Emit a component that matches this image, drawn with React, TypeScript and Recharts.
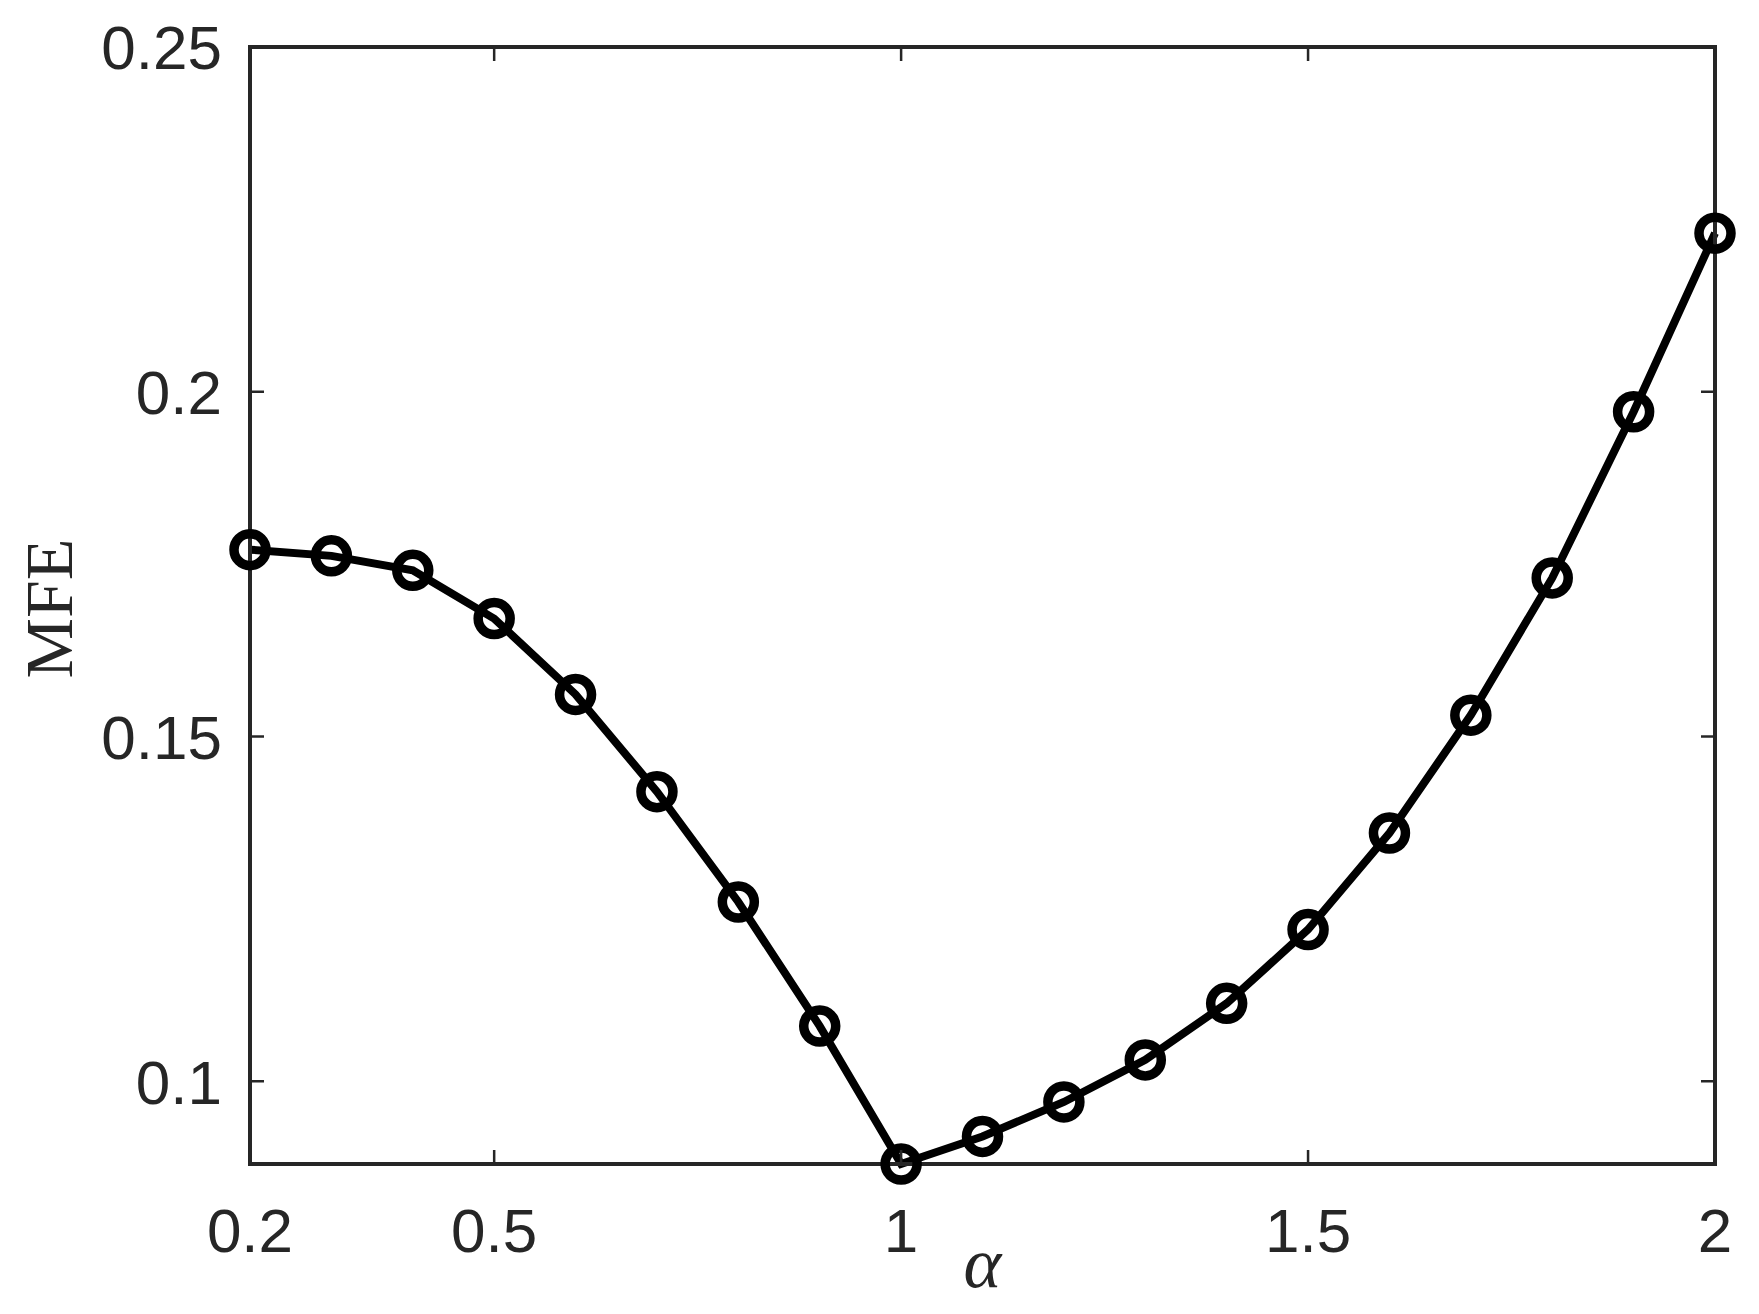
import React from "react";
import { LineChart, Line, XAxis, YAxis, Label } from "recharts";

// alpha values along the x axis and the measured MFE for each
const alphaValues = [0.2, 0.3, 0.4, 0.5, 0.6, 0.7, 0.8, 0.9, 1.0, 1.1, 1.2, 1.3, 1.4, 1.5, 1.6, 1.7, 1.8, 1.9, 2.0];
const mfeValues = [
  0.1771, 0.1762, 0.1741, 0.1671, 0.1561, 0.142, 0.126, 0.108, 0.088, 0.092,
  0.097, 0.1031, 0.1113, 0.122, 0.136, 0.1531, 0.173, 0.1971, 0.223,
];

const xTicks = [0.2, 0.5, 1, 1.5, 2];
const yTicks = [0.1, 0.15, 0.2, 0.25];
const xDomain: [number, number] = [0.2, 2];
const yDomain: [number, number] = [0.088, 0.25];

const data = alphaValues.map((a, i) => ({ alpha: a, mfe: mfeValues[i] }));

const AXIS = "#262626";
const SANS = "'Liberation Sans', Arial, sans-serif";
const SERIF = "'Liberation Serif', 'Times New Roman', serif";
const TICK_LEN = 14;

function LeftTick({ x, y, payload }: any) {
  return (
    <g>
      <line x1={x} x2={x + TICK_LEN} y1={y} y2={y} stroke={AXIS} strokeWidth={2.5} />
      <text x={x - 28} y={y} dy="0.36em" textAnchor="end" fontFamily={SANS} fontSize={62} fill={AXIS}>
        {String(payload.value)}
      </text>
    </g>
  );
}

function RightTick({ x, y }: any) {
  return <line x1={x - TICK_LEN} x2={x} y1={y} y2={y} stroke={AXIS} strokeWidth={2.5} />;
}

function BottomTick({ x, y, payload }: any) {
  return (
    <g>
      <line x1={x} x2={x} y1={y} y2={y - TICK_LEN} stroke={AXIS} strokeWidth={2.5} />
      <text x={x} y={y + 88} textAnchor="middle" fontFamily={SANS} fontSize={62} fill={AXIS}>
        {String(payload.value)}
      </text>
    </g>
  );
}

function TopTick({ x, y }: any) {
  return <line x1={x} x2={x} y1={y} y2={y + TICK_LEN} stroke={AXIS} strokeWidth={2.5} />;
}

const frame = { stroke: AXIS, strokeWidth: 4, strokeLinecap: "square" as const };

export default function App() {
  return (
    <LineChart width={1743} height={1298} data={data} margin={{ top: 0, right: 0, bottom: 0, left: 0 }}>
      <XAxis
        dataKey="alpha"
        type="number"
        domain={xDomain}
        ticks={xTicks}
        interval={0}
        height={142}
        tickSize={0}
        tickMargin={0}
        tickLine={false}
        axisLine={frame}
        tick={<BottomTick />}
      >
        <Label
          content={({ viewBox }: any) => (
            <text
              x={viewBox.x + viewBox.width / 2}
              y={viewBox.y + 123}
              textAnchor="middle"
              fontFamily={SERIF}
              fontStyle="italic"
              fontSize={72}
              fill={AXIS}
            >
              α
            </text>
          )}
        />
      </XAxis>
      <XAxis
        xAxisId="top"
        orientation="top"
        dataKey="alpha"
        type="number"
        domain={xDomain}
        ticks={xTicks}
        interval={0}
        height={39}
        tickSize={0}
        tickMargin={0}
        tickLine={false}
        axisLine={frame}
        tick={<TopTick />}
      />
      <YAxis
        type="number"
        domain={yDomain}
        ticks={yTicks}
        interval={0}
        width={242}
        tickSize={0}
        tickMargin={0}
        tickLine={false}
        axisLine={frame}
        tick={<LeftTick />}
      >
        <Label
          content={({ viewBox }: any) => {
            const cx = 64;
            const cy = viewBox.y + viewBox.height / 2 + 3;
            return (
              <text
                x={cx}
                y={cy}
                transform={`rotate(-90 ${cx} ${cy})`}
                textAnchor="middle"
                fontFamily={SERIF}
                fontSize={68}
                fill={AXIS}
              >
                MFE
              </text>
            );
          }}
        />
      </YAxis>
      <YAxis
        yAxisId="right"
        orientation="right"
        dataKey="mfe"
        type="number"
        domain={yDomain}
        ticks={yTicks}
        interval={0}
        width={36}
        tickSize={0}
        tickMargin={0}
        tickLine={false}
        axisLine={frame}
        tick={<RightTick />}
      />
      <Line
        dataKey="mfe"
        type="linear"
        stroke="#000"
        strokeWidth={8}
        dot={{ r: 16, stroke: "#000", strokeWidth: 9.5, fill: "none" }}
        activeDot={false}
        isAnimationActive={false}
      />
    </LineChart>
  );
}
